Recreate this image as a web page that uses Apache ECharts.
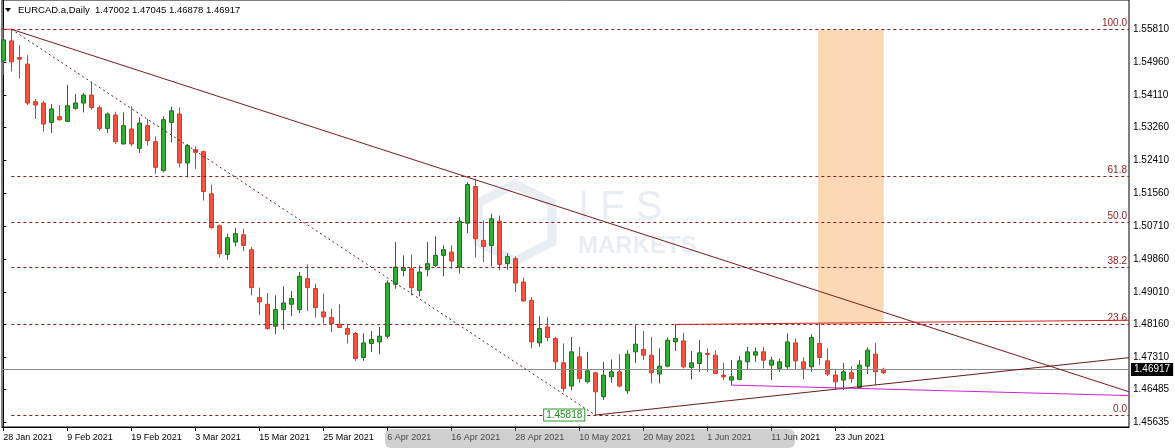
<!DOCTYPE html>
<html>
<head>
<meta charset="utf-8">
<script src="https://cdn.jsdelivr.net/npm/echarts@6/dist/echarts.min.js"></script>
<style>
html,body{margin:0;padding:0;background:#fff;}
#chart{width:1175px;height:448px;}
</style>
</head>
<body>
<div id="chart"></div>
<script>
// ---- DATA ----
const titleText = 'EURCAD.a,Daily  1.47002 1.47045 1.46878 1.46917';
const tickIndex = [0, 8, 16, 24, 32, 40, 48, 56, 64, 72, 80, 88, 96, 104];
const tickLabels = ['28 Jan 2021', '9 Feb 2021', '19 Feb 2021', '3 Mar 2021', '15 Mar 2021', '25 Mar 2021', '6 Apr 2021',
  '16 Apr 2021', '28 Apr 2021', '10 May 2021', '20 May 2021', '1 Jun 2021', '11 Jun 2021', '23 Jun 2021'];
const priceLabels = [1.55810, 1.54960, 1.54110, 1.53260, 1.52410, 1.51560, 1.50710, 1.49860, 1.49010, 1.48160, 1.47310, 1.46485, 1.45635];

const opens = [1.54991,1.55508,1.55076,1.54906,1.53932,1.53898,1.53397,1.53544,1.53423,1.53759,
1.53898,1.54105,1.53777,1.53242,1.53588,1.52839,1.53226,1.52725,1.53312,1.52898,
1.52149,1.53397,1.53614,1.52348,1.52692,1.52640,1.51547,1.50720,1.49979,1.50297,
1.50488,1.50100,1.48860,1.48687,1.48119,1.48550,1.48687,1.48550,1.49351,1.49093,
1.48488,1.48343,1.48170,1.48059,1.47930,1.47310,1.47672,1.47713,1.47860,1.49204,
1.49565,1.49609,1.49049,1.49584,1.49695,1.49953,1.50038,1.49651,1.50788,1.51736,
1.50341,1.50211,1.50839,1.49739,1.49868,1.49263,1.48790,1.47687,1.48101,1.47801,
1.47170,1.46569,1.47326,1.46680,1.46912,1.46292,1.46809,1.46938,1.46447,1.47455,
1.47517,1.47369,1.46879,1.47085,1.47713,1.47739,1.47052,1.47155,1.47413,1.47369,
1.46853,1.46723,1.46742,1.47196,1.47369,1.47455,1.47111,1.47026,1.47067,1.47687,
1.47196,1.47067,1.47672,1.47222,1.46853,1.46723,1.46912,1.46535,1.47085,1.47395,
1.47002];
const highs = [1.55810,1.55810,1.55397,1.55138,1.54002,1.53958,1.53872,1.53847,1.54371,1.54131,
1.54157,1.54448,1.53828,1.53655,1.53673,1.53655,1.53810,1.53526,1.53485,1.53035,
1.53552,1.53810,1.53785,1.52839,1.52777,1.52666,1.51787,1.50754,1.50514,1.50669,
1.50643,1.50167,1.49119,1.48979,1.48920,1.49152,1.49031,1.49522,1.49720,1.49222,
1.48963,1.48576,1.48687,1.48170,1.47971,1.47930,1.47997,1.48101,1.49307,1.50297,
1.49953,1.49979,1.49695,1.50297,1.50444,1.50211,1.50211,1.50943,1.51847,1.51935,
1.50857,1.51030,1.50986,1.50012,1.49927,1.49377,1.48876,1.48377,1.48359,1.47842,
1.47672,1.47842,1.47584,1.47455,1.46938,1.47196,1.47258,1.47395,1.47499,1.48145,
1.47997,1.47842,1.47543,1.47827,1.48164,1.47946,1.47480,1.47757,1.47543,1.47499,
1.47170,1.47240,1.47344,1.47584,1.47568,1.47584,1.47326,1.47284,1.47930,1.47801,
1.47310,1.47912,1.48204,1.47543,1.46982,1.47170,1.47085,1.47240,1.47568,1.47687,
1.47045];
const lows = [1.54629,1.54715,1.54534,1.53847,1.53485,1.53157,1.53123,1.53441,1.53410,1.53725,
1.53655,1.53725,1.53183,1.53123,1.52839,1.52830,1.52777,1.52606,1.52795,1.52064,
1.52105,1.52880,1.52234,1.51976,1.52193,1.51374,1.50650,1.49894,1.49842,1.50186,
1.50064,1.48920,1.48403,1.48033,1.47912,1.48033,1.48377,1.48462,1.48514,1.48343,
1.48188,1.47971,1.48075,1.47672,1.47222,1.47222,1.47455,1.47395,1.47801,1.49093,
1.49410,1.48920,1.48894,1.49410,1.49651,1.49410,1.49609,1.49480,1.50529,1.49894,
1.49780,1.49669,1.49565,1.49584,1.49005,1.48760,1.47543,1.47584,1.47739,1.46982,
1.46421,1.46465,1.46654,1.46638,1.45818,1.46207,1.46654,1.46535,1.46362,1.47170,
1.47240,1.46638,1.46638,1.47052,1.47480,1.47026,1.46742,1.46938,1.46938,1.46879,
1.46723,1.46594,1.46723,1.46982,1.47196,1.47026,1.46723,1.46938,1.46982,1.46982,
1.46742,1.46938,1.47111,1.46827,1.46483,1.46465,1.46654,1.46509,1.46879,1.46594,
1.46878];
const closes = [1.55534,1.54965,1.55035,1.53898,1.53847,1.53356,1.53743,1.53467,1.53828,1.53898,
1.54105,1.53785,1.53242,1.53614,1.52898,1.53312,1.52839,1.53381,1.52924,1.52234,
1.53467,1.53699,1.52348,1.52795,1.52622,1.51607,1.50669,1.49997,1.50410,1.50514,
1.50211,1.49119,1.48746,1.48059,1.48550,1.48721,1.48834,1.49410,1.49119,1.48602,
1.48359,1.48188,1.48085,1.47912,1.47284,1.47687,1.47775,1.47860,1.49237,1.49651,
1.49635,1.49119,1.49522,1.49739,1.49953,1.50100,1.49806,1.50839,1.51787,1.50384,
1.50186,1.50901,1.49720,1.49927,1.49237,1.48772,1.47713,1.48059,1.47827,1.47196,
1.46509,1.47455,1.46767,1.46964,1.46421,1.46853,1.46938,1.46569,1.47395,1.47654,
1.47369,1.46912,1.47085,1.47757,1.47801,1.47067,1.47170,1.47429,1.47388,1.46897,
1.46809,1.46809,1.47222,1.47455,1.47455,1.47240,1.47240,1.47196,1.47713,1.47222,
1.47026,1.47827,1.47310,1.46879,1.46680,1.46938,1.46767,1.47111,1.47499,1.46938,
1.46917];

// chart objects (bar index, price)
const fibLevels = [1.55810, 1.51993, 1.50814, 1.49635, 1.48176, 1.45818];
const fibNames = ['100.0', '61.8', '50.0', '38.2', '23.6', '0.0'];
const fibStart = 1;
const fibDiagonal = [[1, 1.55810], [74, 1.45818]];
const trendDown = [[1, 1.55810], [140.71, 1.46421]];
const trendUp = [[74, 1.45818], [140.71, 1.47304]];
const redLine = [[84, 1.48164], [140.71, 1.48274]];
const magentaLine = [[91, 1.46594], [140.71, 1.46323]];
const topSegment = [[-0.2, 1.55810], [1, 1.55810]];
const boxTime = [101.85, 110.05];
const boxPrice = [1.55790, 1.48160];
const lowLabel = { x: 74, price: 1.45818, text: '1.45818' };
const lastPrice = 1.46917;

// ---- CHART ----
const X_MIN = -0.1625, X_MAX = 140.7125;
const Y_MIN = 1.45509, Y_MAX = 1.56567;
const FONT = 'Liberation Sans';
const fibColor = '#8b1a1a';
const wmColor = '#e9eef4';

const candleData = opens.map((o, i) => [i, o, closes[i], lows[i], highs[i]]);

const chart = echarts.init(document.getElementById('chart'), null, { renderer: 'canvas' });

function lineSeries(data, color, type, z) {
  return {
    type: 'line', data: data, symbol: 'none', silent: true, animation: false, z: z || 5,
    lineStyle: { color: color, width: 1, type: type || 'solid' }
  };
}

const option = {
  animation: false,
  backgroundColor: '#ffffff',
  textStyle: { fontFamily: FONT },
  grid: { left: 2, right: 46, top: -1, bottom: 21, show: true, borderColor: '#000', borderWidth: 1, backgroundColor: 'transparent' },
  xAxis: {
    type: 'value', min: X_MIN, max: X_MAX,
    axisLine: { show: true, lineStyle: { color: '#000', width: 1 } },
    axisTick: { show: true, length: 4, lineStyle: { color: '#000' }, customValues: tickIndex },
    axisLabel: {
      customValues: tickIndex, align: 'left', margin: 6, fontSize: 9, color: '#000', fontFamily: FONT,
      formatter: v => tickLabels[tickIndex.indexOf(Math.round(v))] || ''
    },
    splitLine: { show: false }
  },
  yAxis: {
    type: 'value', position: 'right', min: Y_MIN, max: Y_MAX, scale: true,
    axisLine: { show: true, lineStyle: { color: '#000', width: 1 } },
    axisTick: { show: true, length: 3, lineStyle: { color: '#000' }, customValues: priceLabels },
    axisLabel: { customValues: priceLabels, margin: 4, fontSize: 10, color: '#000', fontFamily: FONT,
      formatter: v => v.toFixed(5) },
    splitLine: { show: false }
  },
  graphic: [
    { type: 'polygon', shape: { points: [[5, 8], [11, 8], [8, 12]] }, style: { fill: '#000' }, z: 10 },
    { type: 'text', left: 18, top: 5, style: { text: titleText, fontSize: 9.5, fontFamily: FONT, fill: '#000' }, z: 10 },
    { type: 'polygon', shape: { points: [[515, 184], [552, 203], [552, 242], [515, 261], [478, 242], [478, 203]] },
      style: { fill: 'none', stroke: wmColor, lineWidth: 9 }, z: 0 },
    { type: 'text', left: 578, top: 188, style: { text: 'I F S', fontSize: 40, fontFamily: FONT, fill: wmColor }, z: 0 },
    { type: 'text', left: 578, top: 234, style: { text: 'MARKETS', fontSize: 24, fontWeight: 'bold', fontFamily: FONT, fill: wmColor }, z: 0 },
    { type: 'rect', shape: { x: 385, y: 429, width: 410, height: 19, r: 6 }, style: { fill: 'rgba(150,150,150,0.45)' }, z: 20 }
  ],
  series: [
    {
      type: 'line', data: [], silent: true, z: 1,
      markArea: {
        silent: true,
        itemStyle: { color: '#fcd9b4' },
        data: [[{ coord: [boxTime[0], boxPrice[0]] }, { coord: [boxTime[1], boxPrice[1]] }]]
      }
    },
    {
      type: 'line', data: [], silent: true, z: 3,
      markLine: {
        silent: true, symbol: 'none', animation: false,
        lineStyle: { color: fibColor, width: 1, type: [3, 3] },
        label: { show: true, position: 'insideEndTop', distance: [2, 1], color: fibColor, fontSize: 10, fontFamily: FONT,
          formatter: p => p.name },
        data: fibLevels.map((v, i) => [{ name: fibNames[i], coord: [fibStart, v] }, { coord: [X_MAX, v] }])
      }
    },
    {
      type: 'line', data: [], silent: true, z: 3,
      markLine: {
        silent: true, symbol: 'none', animation: false,
        lineStyle: { color: '#8c8c8c', width: 1, type: 'solid' },
        label: { show: true, position: 'end', distance: 2, color: '#fff', backgroundColor: '#000',
          padding: [2, 3, 1, 3], fontSize: 10, fontFamily: FONT, formatter: () => lastPrice.toFixed(5) },
        data: [{ yAxis: lastPrice }]
      }
    },
    {
      type: 'candlestick', data: candleData, encode: { x: 0, y: [1, 2, 3, 4] }, barWidth: 5, z: 4,
      itemStyle: { color: '#30b030', color0: '#f5533f', borderColor: '#1e6e1e', borderColor0: '#e03525', borderWidth: 1 },
      markPoint: {
        symbol: 'rect', symbolSize: 0, silent: true,
        label: { show: true, position: 'left', distance: 11, color: '#1c8a1c', backgroundColor: '#fff',
          borderColor: '#2a9a2a', borderWidth: 1, padding: [1, 2, 0, 2], fontSize: 10, fontFamily: FONT,
          formatter: () => lowLabel.text },
        data: [{ coord: [lowLabel.x, lowLabel.price] }]
      }
    },
    lineSeries(fibDiagonal, '#5a2020', [2, 3], 6),
    lineSeries(trendDown, '#7d1a1a', 'solid', 6),
    lineSeries(trendUp, '#6e1818', 'solid', 6),
    lineSeries(redLine, '#d42020', 'solid', 6),
    lineSeries(magentaLine, '#d020d0', 'solid', 6),
    lineSeries(topSegment, '#d42020', 'solid', 6)
  ]
};
chart.setOption(option);
</script>
</body>
</html>
